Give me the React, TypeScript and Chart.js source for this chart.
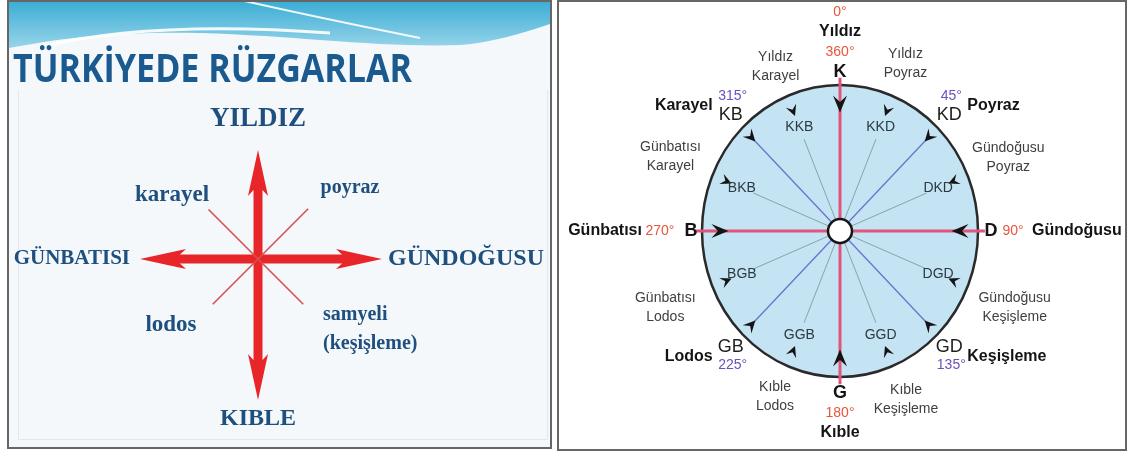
import React, { useEffect, useRef } from 'react';
import { Chart, registerables } from 'chart.js';
Chart.register(...registerables);

// ---------------- DATA ----------------
// Left panel (slide): main winds and side winds of Türkiye
const TITLE = 'TÜRKİYEDE RÜZGARLAR';
const MAIN_WINDS = ['YILDIZ', 'GÜNDOĞUSU', 'KIBLE', 'GÜNBATISI'];
const MAIN_ANGLES = [0, 90, 180, 270];
const MAIN_ARROW_LENGTHS = [1.09, 1.24, 1.41, 1.18];
const SIDE_WINDS = [['poyraz'], ['samyeli', '(keşişleme)'], ['lodos'], ['karayel']];
const SIDE_ANGLES = [45, 135, 225, 315];
const SIDE_LINE_LENGTHS = [0.71, 0.64, 0.64, 0.7];

// Right panel: 16-point wind rose
const CARDINAL_ANGLES = [0, 90, 180, 270];
const CARDINAL_CODES = ['K', 'D', 'G', 'B'];
const CARDINAL_NAMES = ['Yıldız', 'Gündoğusu', 'Kıble', 'Günbatısı'];
const CARDINAL_DEGREES = ['360°', '90°', '180°', '270°'];
const NORTH_ZERO_DEGREE = '0°';
const INTER_ANGLES = [45, 135, 225, 315];
const INTER_CODES = ['KD', 'GD', 'GB', 'KB'];
const INTER_NAMES = ['Poyraz', 'Keşişleme', 'Lodos', 'Karayel'];
const INTER_DEGREES = ['45°', '135°', '225°', '315°'];
const MINOR_ANGLES = [22.5, 67.5, 112.5, 157.5, 202.5, 247.5, 292.5, 337.5];
const MINOR_CODES = ['KKD', 'DKD', 'DGD', 'GGD', 'GGB', 'BGB', 'BKB', 'KKB'];
const MINOR_NAMES = [
  ['Yıldız', 'Poyraz'],
  ['Gündoğusu', 'Poyraz'],
  ['Gündoğusu', 'Keşişleme'],
  ['Kıble', 'Keşişleme'],
  ['Kıble', 'Lodos'],
  ['Günbatısı', 'Lodos'],
  ['Günbatısı', 'Karayel'],
  ['Yıldız', 'Karayel'],
];

// ---------------- LAYOUT ----------------
const LW = 556;
const RW = 572;
const H = 454;
const LEFT_SCALE = { xMin: -2.58, xMax: 2.98, yMin: -1.95, yMax: 2.59 };
const LEFT_MAIN_LABEL_R = [1.4, 1.3, 1.6, 1.28];
const LEFT_MAIN_FONT = [27, 24, 24, 21];
const LEFT_SIDE_OFFSETS = [
  [0.92, 0.71],
  [1.08, -0.7],
  [-0.87, -0.66],
  [-0.86, 0.64],
];
const LEFT_SIDE_FONT = [20, 20, 23, 23];

const RX = 138;
const RY = 146;
const RCX = 284;
const RCY = 231;
const RIGHT_SCALE = {
  xMin: -RCX / RX,
  xMax: (RW - RCX) / RX,
  yMin: -(H - RCY) / RY,
  yMax: RCY / RY,
};
const CARD_CODE_R = [1.09, 1.094, 1.11, 1.08];
const CARD_DEG_OFF = [[0, -20], [22, 0], [0, 20], [-31, 0]];
const CARD_NAME_OFF = [[0, -40], [41, 0], [0, 40], [-49, 0]];
const CARD_NAME_ALIGN = ['center', 'left', 'center', 'right'];
const MINOR_NAME_R = [1.24, 1.32, 1.37, 1.25, 1.23, 1.37, 1.33, 1.22];

const SANS = '"Liberation Sans", Arial, sans-serif';
const SERIF = '"Liberation Serif", "Times New Roman", serif';

// ---------------- HELPERS ----------------
function polar(deg: number, r: number) {
  const a = (deg * Math.PI) / 180;
  return { x: r * Math.sin(a), y: r * Math.cos(a) };
}
function toPx(chart: any, p: { x: number; y: number }) {
  return { x: chart.scales.x.getPixelForValue(p.x), y: chart.scales.y.getPixelForValue(p.y) };
}
function txt(ctx: CanvasRenderingContext2D, s: string, x: number, y: number, font: string, color: string, align: CanvasTextAlign = 'center') {
  ctx.font = font;
  ctx.fillStyle = color;
  ctx.textAlign = align;
  ctx.textBaseline = 'middle';
  ctx.fillText(s, x, y);
}
function segment(from: { x: number; y: number }, to: { x: number; y: number }, color: string, width: number) {
  return {
    data: [from, to],
    showLine: true,
    borderColor: color,
    borderWidth: width,
    pointRadius: 0,
    borderCapStyle: 'butt',
    fill: false,
  };
}
function chevron(ctx: CanvasRenderingContext2D, p: { x: number; y: number }, toward: { x: number; y: number }, len: number, halfW: number) {
  let dx = toward.x - p.x;
  let dy = toward.y - p.y;
  const d = Math.hypot(dx, dy) || 1;
  dx /= d;
  dy /= d;
  const px = -dy;
  const py = dx;
  const tip = { x: p.x + (dx * len) / 2, y: p.y + (dy * len) / 2 };
  const back = { x: p.x - (dx * len) / 2, y: p.y - (dy * len) / 2 };
  const notch = { x: back.x + dx * len * 0.38, y: back.y + dy * len * 0.38 };
  ctx.beginPath();
  ctx.moveTo(tip.x, tip.y);
  ctx.lineTo(back.x + px * halfW, back.y + py * halfW);
  ctx.lineTo(notch.x, notch.y);
  ctx.lineTo(back.x - px * halfW, back.y - py * halfW);
  ctx.closePath();
  ctx.fill();
}

const baseOptions = (s: { xMin: number; xMax: number; yMin: number; yMax: number }) => ({
  responsive: false,
  animation: false,
  events: [],
  layout: { padding: 0 },
  plugins: { legend: { display: false }, tooltip: { enabled: false } },
  scales: {
    x: { type: 'linear', min: s.xMin, max: s.xMax, display: false },
    y: { type: 'linear', min: s.yMin, max: s.yMax, display: false },
  },
});

// ---------------- LEFT CHART ----------------
const leftPlugin = {
  id: 'leftDecor',
  beforeDraw(chart: any) {
    const ctx: CanvasRenderingContext2D = chart.ctx;
    ctx.save();
    ctx.fillStyle = '#ffffff';
    ctx.fillRect(0, 0, chart.width, chart.height);
    ctx.fillStyle = '#F4F8FB';
    ctx.fillRect(8, 1, 543, 447);
    ctx.beginPath();
    ctx.rect(9, 2, 541, 445);
    ctx.clip();
    const g = ctx.createLinearGradient(0, 0, 0, 50);
    g.addColorStop(0, '#38ACD4');
    g.addColorStop(1, '#9CD6EA');
    ctx.fillStyle = g;
    ctx.beginPath();
    ctx.moveTo(9, 0);
    ctx.lineTo(550, 0);
    ctx.lineTo(550, 24);
    ctx.bezierCurveTo(520, 34, 490, 43, 460, 45);
    ctx.bezierCurveTo(380, 48, 300, 36, 200, 33);
    ctx.bezierCurveTo(120, 31, 60, 38, 9, 48);
    ctx.closePath();
    ctx.fill();
    ctx.strokeStyle = 'rgba(255,255,255,0.9)';
    ctx.lineWidth = 3;
    ctx.beginPath();
    ctx.moveTo(40, 47);
    ctx.quadraticCurveTo(150, 20, 330, 33);
    ctx.stroke();
    ctx.lineWidth = 2;
    ctx.beginPath();
    ctx.moveTo(240, 0);
    ctx.quadraticCurveTo(320, 18, 420, 38);
    ctx.stroke();
    ctx.strokeStyle = '#E3E8EC';
    ctx.lineWidth = 1;
    ctx.beginPath();
    ctx.moveTo(18.5, 90);
    ctx.lineTo(18.5, 439.5);
    ctx.lineTo(547.5, 439.5);
    ctx.lineTo(547.5, 90);
    ctx.stroke();
    ctx.restore();
    ctx.save();
    ctx.strokeStyle = '#666';
    ctx.lineWidth = 2;
    ctx.strokeRect(8, 1, 543, 447);
    // title
    ctx.font = 'bold 40px "Open Sans", sans-serif';
    const w = ctx.measureText(TITLE).width;
    ctx.translate(13, 82);
    ctx.scale(399 / w, 1);
    ctx.fillStyle = '#1B5A8E';
    ctx.textAlign = 'left';
    ctx.textBaseline = 'alphabetic';
    ctx.fillText(TITLE, 0, 0);
    ctx.restore();
  },
  afterDatasetsDraw(chart: any) {
    const ctx: CanvasRenderingContext2D = chart.ctx;
    ctx.save();
    const c = toPx(chart, { x: 0, y: 0 });
    ctx.fillStyle = '#E8262A';
    MAIN_ANGLES.forEach((a, i) => {
      const tip = toPx(chart, polar(a, MAIN_ARROW_LENGTHS[i]));
      let dx = tip.x - c.x;
      let dy = tip.y - c.y;
      const d = Math.hypot(dx, dy);
      dx /= d;
      dy /= d;
      const px = -dy;
      const py = dx;
      const hl = 46;
      const back = { x: tip.x - dx * hl, y: tip.y - dy * hl };
      ctx.beginPath();
      ctx.moveTo(tip.x, tip.y);
      ctx.lineTo(back.x + px * 10, back.y + py * 10);
      ctx.lineTo(back.x + dx * 6 + px * 4.5, back.y + dy * 6 + py * 4.5);
      ctx.lineTo(back.x + dx * 6 - px * 4.5, back.y + dy * 6 - py * 4.5);
      ctx.lineTo(back.x - px * 10, back.y - py * 10);
      ctx.closePath();
      ctx.fill();
    });
    const blue = '#1E4F7E';
    MAIN_WINDS.forEach((name, i) => {
      const p = toPx(chart, polar(MAIN_ANGLES[i], LEFT_MAIN_LABEL_R[i]));
      const align: CanvasTextAlign = MAIN_ANGLES[i] === 90 ? 'left' : MAIN_ANGLES[i] === 270 ? 'right' : 'center';
      txt(ctx, name, p.x, p.y, `bold ${LEFT_MAIN_FONT[i]}px ${SERIF}`, blue, align);
    });
    SIDE_WINDS.forEach((lines, i) => {
      const p = toPx(chart, { x: LEFT_SIDE_OFFSETS[i][0], y: LEFT_SIDE_OFFSETS[i][1] });
      const lh = LEFT_SIDE_FONT[i] * 1.45;
      lines.forEach((s, j) => {
        const y = p.y + (j - (lines.length - 1) / 2) * lh;
        const align: CanvasTextAlign = lines.length > 1 ? 'left' : 'center';
        const x = lines.length > 1 ? p.x - 43 : p.x;
        txt(ctx, s, x, y, `bold ${LEFT_SIDE_FONT[i]}px ${SERIF}`, blue, align);
      });
    });
    ctx.restore();
  },
};

function leftDatasets() {
  const ds: any[] = [];
  SIDE_ANGLES.forEach((a, i) => {
    ds.push(segment({ x: 0, y: 0 }, polar(a, SIDE_LINE_LENGTHS[i]), '#D8504C', 1.6));
  });
  MAIN_ANGLES.forEach((a, i) => {
    ds.push(segment({ x: 0, y: 0 }, polar(a, MAIN_ARROW_LENGTHS[i] - 0.38), '#E8262A', 9));
  });
  return ds;
}

// ---------------- RIGHT CHART ----------------
const rightPlugin = {
  id: 'rightDecor',
  beforeDraw(chart: any) {
    const ctx: CanvasRenderingContext2D = chart.ctx;
    ctx.save();
    ctx.fillStyle = '#ffffff';
    ctx.fillRect(0, 0, chart.width, chart.height);
    ctx.strokeStyle = '#666';
    ctx.lineWidth = 2;
    ctx.strokeRect(2, 1, 568, 449);
    ctx.restore();
  },
  beforeDatasetsDraw(chart: any) {
    const ctx: CanvasRenderingContext2D = chart.ctx;
    const c = toPx(chart, { x: 0, y: 0 });
    const e = toPx(chart, { x: 1, y: 1 });
    ctx.save();
    ctx.beginPath();
    ctx.ellipse(c.x, c.y, e.x - c.x, c.y - e.y, 0, 0, Math.PI * 2);
    ctx.fillStyle = '#C4E3F3';
    ctx.fill();
    ctx.strokeStyle = '#2A2A2A';
    ctx.lineWidth = 2.5;
    ctx.stroke();
    ctx.restore();
  },
  afterDatasetsDraw(chart: any) {
    const ctx: CanvasRenderingContext2D = chart.ctx;
    const c = toPx(chart, { x: 0, y: 0 });
    ctx.save();
    // center hub
    ctx.beginPath();
    ctx.arc(c.x, c.y, 12, 0, Math.PI * 2);
    ctx.fillStyle = '#ffffff';
    ctx.fill();
    ctx.strokeStyle = '#151515';
    ctx.lineWidth = 2.5;
    ctx.stroke();
    // chevrons
    ctx.fillStyle = '#141414';
    CARDINAL_ANGLES.forEach((a) => chevron(ctx, toPx(chart, polar(a, 0.87)), c, 17, 7));
    INTER_ANGLES.forEach((a) => chevron(ctx, toPx(chart, polar(a, 0.91)), c, 12, 6));
    MINOR_ANGLES.forEach((a) => chevron(ctx, toPx(chart, polar(a, 0.89)), c, 11, 5.5));

    const red = '#E8563C';
    const purple = '#6B50C0';
    const black = '#141414';
    const gray = '#3F3F3F';
    // cardinals
    CARDINAL_ANGLES.forEach((a, i) => {
      const p = toPx(chart, polar(a, CARD_CODE_R[i]));
      txt(ctx, CARDINAL_CODES[i], p.x, p.y, `bold 18px ${SANS}`, black);
      txt(ctx, CARDINAL_DEGREES[i], p.x + CARD_DEG_OFF[i][0], p.y + CARD_DEG_OFF[i][1], `14px ${SANS}`, red);
      txt(ctx, CARDINAL_NAMES[i], p.x + CARD_NAME_OFF[i][0], p.y + CARD_NAME_OFF[i][1], `bold 16px ${SANS}`, black, CARD_NAME_ALIGN[i] as CanvasTextAlign);
      if (a === 0) txt(ctx, NORTH_ZERO_DEGREE, p.x, p.y - 60, `14px ${SANS}`, red);
    });
    // intercardinals
    INTER_ANGLES.forEach((a, i) => {
      const p = toPx(chart, polar(a, 1.12));
      const north = Math.cos((a * Math.PI) / 180) > 0;
      const east = Math.sin((a * Math.PI) / 180) > 0;
      const dOff = north ? -19 : 19;
      txt(ctx, INTER_CODES[i], p.x, p.y, `18px ${SANS}`, '#1E1E1E');
      txt(ctx, INTER_DEGREES[i], p.x + 2, p.y + dOff, `14px ${SANS}`, purple);
      txt(ctx, INTER_NAMES[i], p.x + (east ? 18 : -18), p.y + dOff / 2, `bold 16px ${SANS}`, black, east ? 'left' : 'right');
    });
    // minor points
    MINOR_ANGLES.forEach((a, i) => {
      const p = toPx(chart, polar(a, 0.77));
      txt(ctx, MINOR_CODES[i], p.x, p.y, `14px ${SANS}`, '#2C3A44');
      const q = toPx(chart, polar(a, MINOR_NAME_R[i]));
      txt(ctx, MINOR_NAMES[i][0], q.x, q.y - 9.5, `14px ${SANS}`, gray);
      txt(ctx, MINOR_NAMES[i][1], q.x, q.y + 9.5, `14px ${SANS}`, gray);
    });
    ctx.restore();
  },
};

function rightDatasets() {
  const ds: any[] = [];
  MINOR_ANGLES.forEach((a) => ds.push(segment({ x: 0, y: 0 }, polar(a, 0.68), '#8CA2A6', 1)));
  INTER_ANGLES.forEach((a) => ds.push(segment({ x: 0, y: 0 }, polar(a, 0.92), '#6A74CC', 1.3)));
  CARDINAL_ANGLES.forEach((a) => ds.push(segment({ x: 0, y: 0 }, polar(a, 1.05), '#E0557C', 3)));
  return ds;
}

export default function App() {
  const leftRef = useRef<HTMLCanvasElement>(null);
  const rightRef = useRef<HTMLCanvasElement>(null);

  useEffect(() => {
    document.body.style.margin = '0';
    const left = new Chart(leftRef.current as HTMLCanvasElement, {
      type: 'scatter',
      data: { datasets: leftDatasets() },
      options: baseOptions(LEFT_SCALE) as any,
      plugins: [leftPlugin],
    } as any);
    const right = new Chart(rightRef.current as HTMLCanvasElement, {
      type: 'scatter',
      data: { datasets: rightDatasets() },
      options: baseOptions(RIGHT_SCALE) as any,
      plugins: [rightPlugin],
    } as any);
    return () => {
      left.destroy();
      right.destroy();
    };
  }, []);

  return (
    <div style={{ position: 'absolute', left: 0, top: 0, width: LW + RW, height: H, background: '#fff' }}>
      <canvas ref={leftRef} width={LW} height={H} style={{ position: 'absolute', left: 0, top: 0 }} />
      <canvas ref={rightRef} width={RW} height={H} style={{ position: 'absolute', left: LW, top: 0 }} />
    </div>
  );
}
